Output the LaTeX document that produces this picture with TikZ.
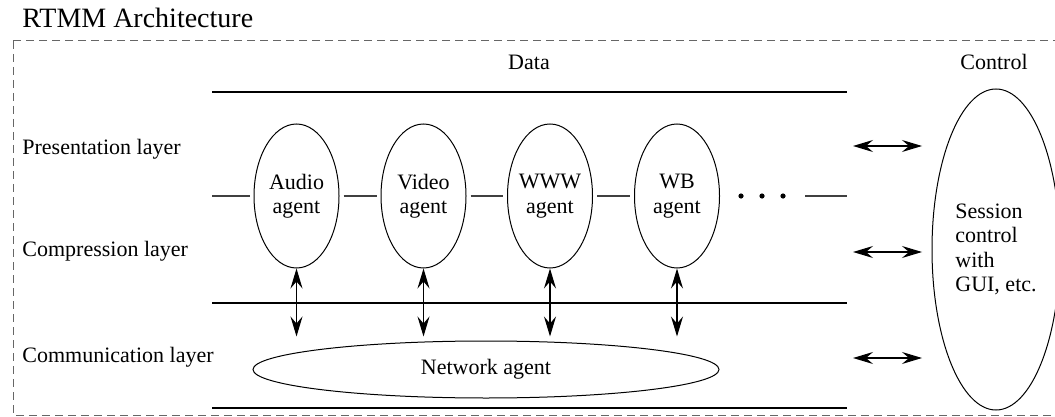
\documentclass[tikz,border=0pt]{standalone}
\usepackage{fontspec}
\setmainfont{Liberation Serif}
\usepackage{tikz}
\usetikzlibrary{shapes.geometric, arrows.meta, calc}
\colorlet{frame-color}{black!60}
\colorlet{wire-color}{black!75}
\tikzset{
    agent/.style = {draw, ellipse, line width=0.5pt, inner sep=0pt, inner xsep=-1pt,
        align=center, minimum width=42.5pt, minimum height=72pt,
        font=\fontsize{11}{12.2}\selectfont},
    layer/.style = {anchor=base west, inner sep=0pt, font=\fontsize{11}{12.2}\selectfont},
    band/.style = {line width=0.7pt},
    wire/.style = {line width=0.8pt, wire-color},
    link/.style = {line width=0.6pt,
        {Stealth[length=10pt,width=6pt,inset=3.5pt]}-{Stealth[length=10pt,width=6pt,inset=3.5pt]}}
}

\begin{document}
\begin{tikzpicture}[x=0.5pt, y=-0.5pt]
\useasboundingbox (0,0) rectangle (1055,417);

%frame
\node[anchor=base west, inner sep=0pt, font=\fontsize{14}{16}\selectfont] (title) at (22,28) {RTMM Architecture};
\draw[frame-color, line width=0.5pt, dash pattern=on 4pt off 2.5pt] (13,41) rectangle (1060,415);

%columns
\node[layer, anchor=base] (data) at (529,70) {Data};
\node[layer, anchor=base] (control) at (994,70) {Control};

%layers
\node[layer] (pres) at (22,155) {Presentation layer};
\node[layer] (comp) at (22,256) {Compression layer};
\node[layer] (comm) at (22,362) {Communication layer};

%bands
\draw[band] (212,92) -- (847,92);
\draw[band] (212,303) -- (847,303);
\draw[band] (212,408) -- (847,408);

%agents
\node[agent] (audio) at (296.5,196) {Audio\\agent};
\node[agent] (video) at (423.5,196) {Video\\agent};
\node[agent] (www) at (550,196) {WWW\\agent};
\node[agent] (wb) at (677,196) {WB\\agent};

%wire
\coordinate (wire-in) at (212,196);
\coordinate (dots-end) at (805,196);
\coordinate (wire-out) at (847,196);
\draw[wire, shorten >=2pt] (wire-in) -- (audio);
\draw[wire, shorten <=2pt, shorten >=2pt] (audio) -- (video);
\draw[wire, shorten <=2pt, shorten >=2pt] (video) -- (www);
\draw[wire, shorten <=2pt, shorten >=2pt] (www) -- (wb);
\foreach \x in {741,762,783}
    \fill (\x,196) circle (1.3pt);
\draw[wire] (dots-end) -- (wire-out);

%network agent
\node[agent, minimum width=233pt, minimum height=28.5pt] (net) at (486,369.5) {Network agent};
\foreach \a in {audio,video,www,wb}
    \draw[link, shorten >=2pt] (\a.south) -- (\a.south |- net.north);

%session control
\node[agent, minimum width=64pt, minimum height=160.5pt, align=left] (session) at (996,249.5)
    {Session\\control\\with\\GUI, etc.};
\foreach \y/\n in {146/pres,252/comp,358/comm} {
    \coordinate (\n-l) at (853,\y);
    \coordinate (\n-r) at (922,\y);
    \draw[link] (\n-l) -- (\n-r);
}
\end{tikzpicture}
\end{document}
